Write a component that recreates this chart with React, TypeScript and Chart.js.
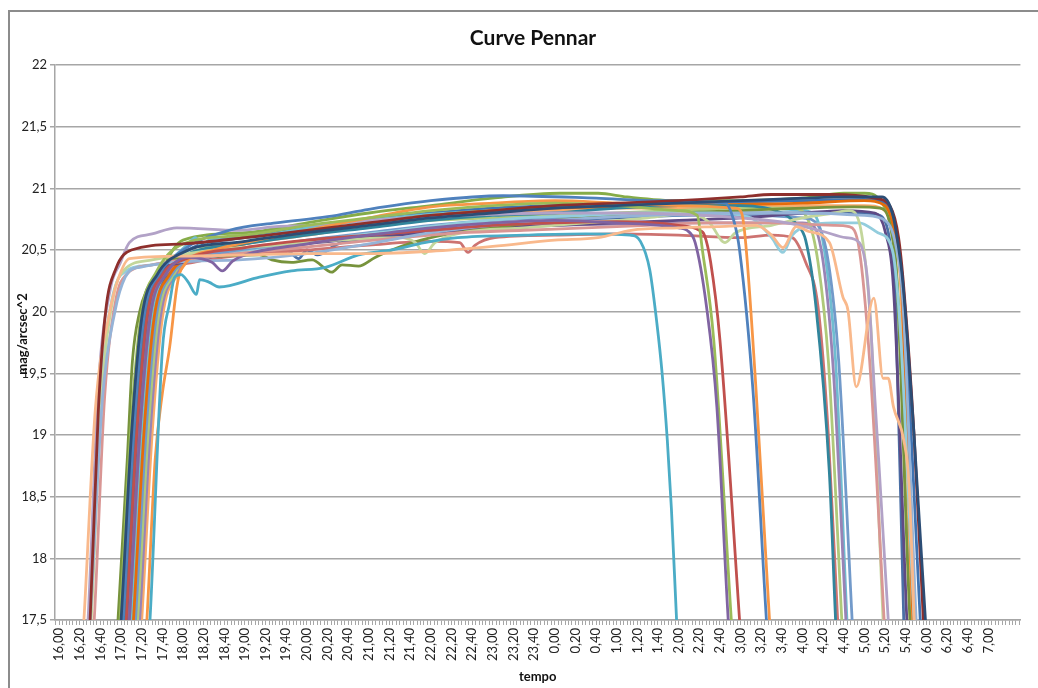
import { useEffect, useRef } from "react";
import { Chart, registerables } from "chart.js";

Chart.register(...registerables);

const CHART_TITLE = "Curve Pennar";
const X_TITLE = "tempo";
const Y_TITLE = "mag/arcsec^2";

// category labels along the time axis (one every 20 minutes, from 16,00)
const TIME_LABELS = [
  "16,00", "16,20", "16,40", "17,00", "17,20", "17,40", "18,00", "18,20", "18,40",
  "19,00", "19,20", "19,40", "20,00", "20,20", "20,40", "21,00", "21,20", "21,40",
  "22,00", "22,20", "22,40", "23,00", "23,20", "23,40", "0,00", "0,20", "0,40",
  "1,00", "1,20", "1,40", "2,00", "2,20", "2,40", "3,00", "3,20", "3,40",
  "4,00", "4,20", "4,40", "5,00", "5,20", "5,40", "6,00", "6,20", "6,40", "7,00",
];
const LABEL_STEP_MIN = 20;
const MINOR_PER_LABEL = 6;
const X_MIN = -4;
const X_MAX = 931;

const Y_MIN = 17.5;
const Y_MAX = 22;
const Y_STEP = 0.5;

type P = [string, number];

const sDarkBlue: P[] = [["16:56",17.0],["17:00",17.5],["17:10",19.0],["17:20",19.95],["17:35",20.3],["18:00",20.48],["19:00",20.57],["20:00",20.64],["21:00",20.7],["22:00",20.76],["23:00",20.8],["0:00",20.84],["1:00",20.86],["2:00",20.88],["3:00",20.9],["4:00",20.92],["4:45",20.93],["5:17",20.93],["5:27",20.8],["5:33",20.52],["5:37",20.25],["5:48",19.0],["5:59",17.5],["6:02",17.0]];
const sDarkRed: P[] = [["16:26",17.0],["16:30",17.5],["16:38",19.2],["16:45",20.0],["16:55",20.35],["17:10",20.5],["18:00",20.55],["19:00",20.6],["20:00",20.66],["21:00",20.72],["22:00",20.78],["23:00",20.82],["0:00",20.86],["1:00",20.88],["2:00",20.9],["3:00",20.93],["3:30",20.95],["4:30",20.95],["5:10",20.92],["5:25",20.85],["5:33",20.6],["5:38",20.2],["5:48",19.0],["5:57",17.5],["6:00",17.0]];
const sPeach: P[] = [["16:20",17.0],["16:24",17.5],["16:35",19.2],["16:49",20.0],["16:57",20.26],["17:08",20.43],["18:00",20.45],["19:00",20.46],["20:00",20.47],["21:00",20.47],["22:00",20.49],["23:00",20.53],["0:00",20.58],["0:42",20.6],["1:14",20.66],["2:00",20.68],["2:37",20.69],["3:15",20.7],["3:30",20.62],["3:41",20.52],["3:54",20.69],["4:06",20.65],["4:26",20.56],["4:39",20.12],["4:44",20.01],["4:52",19.39],["5:09",20.11],["5:18",19.46],["5:23",19.46],["5:28",19.23],["5:38",18.96],["5:43",18.61],["5:49",17.3]];
const sBlue: P[] = [["16:58",17.0],["17:02",17.5],["17:12",19.0],["17:22",19.95],["17:37",20.3],["18:00",20.5],["18:45",20.66],["19:30",20.72],["20:20",20.77],["21:00",20.83],["22:00",20.9],["23:10",20.94],["0:40",20.92],["1:40",20.9],["2:45",20.88],["2:54",20.72],["2:59",20.5],["3:12",19.36],["3:25",17.5],["3:29",17.0]];
const sRed: P[] = [["17:01",17.0],["17:05",17.5],["17:15",19.0],["17:25",19.95],["17:40",20.3],["18:00",20.42],["19:00",20.52],["20:00",20.58],["21:00",20.62],["22:00",20.66],["23:00",20.7],["0:00",20.72],["1:00",20.73],["2:00",20.7],["2:20",20.66],["2:25",20.62],["2:31",20.4],["2:40",19.77],["2:59",17.5],["3:03",17.0]];
const sGreen: P[] = [["16:55",17.0],["16:59",17.5],["17:09",19.0],["17:19",19.95],["17:34",20.32],["18:00",20.55],["19:00",20.62],["20:00",20.7],["21:00",20.76],["22:00",20.82],["23:00",20.86],["0:00",20.88],["1:00",20.86],["2:00",20.82],["2:18",20.78],["2:23",20.5],["2:34",19.77],["2:51",17.5],["2:55",17.0]];
const sPurple: P[] = [["17:04",17.0],["17:08",17.5],["17:18",19.0],["17:28",19.95],["17:43",20.3],["18:05",20.44],["18:28",20.4],["18:38",20.33],["18:48",20.41],["19:00",20.46],["20:00",20.55],["21:00",20.62],["22:00",20.68],["23:00",20.72],["0:00",20.74],["1:00",20.72],["2:00",20.68],["2:08",20.66],["2:16",20.56],["2:27",20.04],["2:37",19.23],["2:48",17.5],["2:52",17.0]];
const sCyan: P[] = [["17:24",17.0],["17:28",17.5],["17:40",19.69],["17:47",20.07],["17:52",20.28],["17:58",20.3],["18:05",20.24],["18:13",20.14],["18:16",20.26],["18:25",20.24],["18:35",20.2],["19:14",20.28],["19:45",20.33],["20:18",20.36],["20:50",20.46],["21:22",20.5],["21:54",20.56],["22:26",20.6],["23:30",20.62],["0:30",20.63],["1:13",20.62],["1:23",20.57],["1:32",20.34],["1:39",19.9],["1:44",19.5],["1:49",18.96],["1:53",18.4],["1:58",17.5],["2:01",17.0]];
const sOrange: P[] = [["17:21",17.0],["17:25",17.5],["17:33",18.8],["17:40",19.34],["17:47",19.71],["17:54",20.2],["17:58",20.34],["18:30",20.5],["19:00",20.56],["20:00",20.66],["21:00",20.76],["22:00",20.85],["23:00",20.88],["0:00",20.9],["1:00",20.88],["2:00",20.86],["2:55",20.84],["3:01",20.8],["3:05",20.55],["3:15",19.36],["3:28",17.5],["3:32",17.0]];
const sLavender: P[] = [["16:24",17.0],["16:28",17.5],["16:38",19.4],["16:50",20.2],["16:59",20.39],["17:08",20.56],["17:30",20.63],["17:54",20.68],["18:54",20.66],["19:30",20.69],["20:00",20.7],["21:00",20.74],["22:00",20.77],["23:00",20.79],["0:00",20.8],["1:00",20.8],["2:00",20.79],["3:00",20.76],["3:45",20.72],["4:20",20.65],["4:42",20.6],["4:55",20.56],["5:03",20.25],["5:10",19.3],["5:23",17.5],["5:26",17.0]];
const sLightBlue: P[] = [["16:26",17.0],["16:30",17.5],["16:42",19.3],["16:54",20.0],["17:04",20.28],["17:18",20.36],["18:54",20.42],["20:00",20.47],["21:00",20.55],["22:00",20.64],["23:00",20.7],["0:00",20.74],["1:00",20.77],["2:00",20.79],["3:00",20.8],["4:00",20.8],["5:00",20.78],["5:20",20.74],["5:30",20.55],["5:37",20.1],["5:50",17.5],["5:53",17.0]];
const sPink: P[] = [["16:30",17.0],["16:34",17.5],["16:44",19.3],["16:55",20.1],["17:05",20.3],["17:30",20.38],["18:30",20.45],["19:30",20.5],["20:30",20.55],["21:30",20.6],["22:30",20.64],["23:30",20.66],["0:30",20.68],["1:30",20.7],["2:30",20.72],["3:30",20.72],["4:30",20.7],["4:45",20.69],["4:55",20.5],["5:05",19.6],["5:19",17.5],["5:22",17.0]];
const sLightGreen: P[] = [["16:27",17.0],["16:31",17.5],["16:41",19.3],["16:52",20.1],["17:02",20.33],["17:30",20.42],["18:30",20.5],["19:30",20.54],["20:30",20.58],["21:30",20.6],["21:45",20.56],["21:54",20.47],["22:04",20.56],["22:30",20.64],["23:30",20.68],["0:30",20.72],["1:30",20.76],["2:11",20.8],["2:30",20.72],["2:45",20.56],["2:55",20.64],["3:30",20.7],["4:00",20.76],["4:30",20.8],["4:45",20.82],["4:55",20.72],["5:01",20.39],["5:06",19.9],["5:18",17.5],["5:21",17.0]];
const sLightCyan: P[] = [["16:25",17.0],["16:29",17.5],["16:39",19.3],["16:50",20.05],["17:00",20.3],["17:30",20.38],["18:30",20.45],["19:30",20.52],["20:30",20.6],["21:30",20.66],["22:30",20.72],["23:30",20.76],["0:30",20.78],["1:30",20.8],["2:30",20.8],["3:10",20.76],["3:30",20.6],["3:41",20.48],["3:50",20.62],["4:05",20.7],["4:30",20.72],["4:55",20.72],["5:13",20.64],["5:27",20.5],["5:35",19.8],["5:48",17.5],["5:51",17.0]];
const sOlive: P[] = [["16:53",17.0],["16:57",17.5],["17:06",18.8],["17:11",19.6],["17:18",20.0],["17:25",20.18],["17:35",20.31],["17:47",20.42],["18:30",20.45],["19:14",20.46],["19:26",20.42],["19:45",20.4],["20:05",20.42],["20:24",20.32],["20:34",20.38],["20:50",20.37],["21:06",20.44],["21:22",20.5],["22:00",20.6],["23:00",20.68],["0:00",20.74],["1:00",20.78],["2:00",20.8],["3:00",20.82],["4:00",20.84],["4:50",20.85],["5:15",20.84],["5:25",20.7],["5:31",20.3],["5:44",17.5],["5:48",17.0]];
const sDarkPurple: P[] = [["16:56",17.0],["17:00",17.5],["17:10",19.0],["17:20",19.95],["17:35",20.3],["18:00",20.4],["19:00",20.48],["20:00",20.55],["21:00",20.6],["22:00",20.64],["23:00",20.68],["0:00",20.7],["1:00",20.72],["2:00",20.74],["3:00",20.76],["4:00",20.8],["4:40",20.82],["5:10",20.8],["5:20",20.65],["5:28",20.2],["5:41",17.5],["5:44",17.0]];
const sTeal: P[] = [["17:00",17.0],["17:04",17.5],["17:14",19.0],["17:24",19.95],["17:39",20.3],["18:00",20.45],["19:00",20.55],["20:00",20.62],["21:00",20.68],["22:00",20.74],["23:00",20.78],["0:00",20.8],["1:00",20.84],["2:00",20.86],["3:00",20.86],["3:40",20.8],["3:55",20.7],["4:03",20.58],["4:13",20.04],["4:26",18.69],["4:32",17.5],["4:35",17.0]];
const sDarkOrange: P[] = [["17:08",17.0],["17:12",17.5],["17:22",19.0],["17:32",19.95],["17:47",20.3],["18:10",20.45],["19:00",20.55],["20:00",20.64],["21:00",20.72],["22:00",20.78],["23:00",20.82],["0:00",20.84],["1:00",20.85],["2:00",20.86],["3:00",20.87],["4:00",20.88],["5:00",20.9],["5:20",20.86],["5:30",20.6],["5:36",20.2],["5:47",17.5],["5:50",17.0]];
const sMidBlue: P[] = [["17:10",17.0],["17:14",17.5],["17:24",19.0],["17:34",19.95],["17:49",20.3],["18:10",20.42],["19:00",20.5],["20:00",20.58],["21:00",20.64],["22:00",20.7],["23:00",20.74],["0:00",20.76],["1:00",20.77],["2:00",20.78],["3:00",20.78],["4:00",20.76],["4:15",20.7],["4:25",20.4],["4:35",19.6],["4:48",17.5],["4:51",17.0]];
const sSalmon: P[] = [["17:04",17.0],["17:08",17.5],["17:18",19.0],["17:28",19.95],["17:43",20.3],["18:10",20.4],["19:00",20.46],["20:00",20.5],["21:00",20.54],["22:00",20.57],["22:28",20.56],["22:36",20.48],["22:43",20.54],["23:02",20.6],["0:00",20.62],["1:00",20.63],["2:00",20.62],["3:00",20.6],["3:30",20.62],["3:50",20.6],["4:03",20.4],["4:15",20.04],["4:25",19.0],["4:34",17.5],["4:37",17.0]];
const sYellowGreen: P[] = [["17:12",17.0],["17:16",17.5],["17:26",19.0],["17:36",19.95],["17:51",20.3],["18:10",20.48],["19:00",20.56],["20:00",20.64],["21:00",20.7],["22:00",20.74],["23:00",20.76],["0:00",20.78],["1:00",20.8],["2:00",20.82],["3:00",20.84],["3:50",20.84],["4:05",20.75],["4:15",20.4],["4:25",19.6],["4:38",17.5],["4:41",17.0]];
const sLilac: P[] = [["17:14",17.0],["17:18",17.5],["17:28",19.0],["17:38",19.95],["17:53",20.3],["18:15",20.45],["19:00",20.5],["20:00",20.56],["21:00",20.62],["22:00",20.66],["23:00",20.69],["0:00",20.7],["1:00",20.71],["2:00",20.72],["3:00",20.72],["4:00",20.72],["4:10",20.7],["4:20",20.4],["4:30",19.5],["4:42",17.5],["4:45",17.0]];
const sSky: P[] = [["17:06",17.0],["17:10",17.5],["17:20",19.0],["17:30",19.95],["17:45",20.35],["18:05",20.55],["18:12",20.6],["18:18",20.52],["18:25",20.58],["19:00",20.6],["20:00",20.68],["21:00",20.74],["22:00",20.79],["23:00",20.82],["0:00",20.84],["1:00",20.86],["2:00",20.86],["3:00",20.85],["4:00",20.82],["4:12",20.78],["4:22",20.45],["4:32",19.6],["4:43",17.5],["4:46",17.0]];
const sLightOrange: P[] = [["17:16",17.0],["17:20",17.5],["17:30",19.0],["17:40",19.95],["17:55",20.3],["18:20",20.48],["19:00",20.55],["20:00",20.62],["21:00",20.7],["22:00",20.76],["23:00",20.8],["0:00",20.82],["1:00",20.84],["2:00",20.84],["3:00",20.85],["4:00",20.86],["5:00",20.86],["5:20",20.82],["5:30",20.6],["5:35",20.2],["5:46",17.5],["5:49",17.0]];
const sBlue2: P[] = [["17:02",17.0],["17:06",17.5],["17:16",19.0],["17:26",19.95],["17:41",20.3],["18:05",20.5],["19:00",20.6],["20:00",20.68],["21:00",20.75],["22:00",20.8],["23:00",20.84],["0:00",20.86],["1:00",20.87],["2:00",20.88],["3:00",20.89],["4:00",20.9],["5:00",20.91],["5:20",20.88],["5:30",20.65],["5:37",20.2],["5:54",17.5],["5:57",17.0]];
const sTopGreen: P[] = [["17:02",17.0],["17:06",17.5],["17:16",19.0],["17:26",19.95],["17:41",20.35],["18:00",20.58],["19:00",20.64],["20:00",20.72],["21:00",20.8],["22:00",20.86],["23:00",20.92],["0:05",20.96],["0:42",20.96],["1:10",20.93],["2:00",20.9],["3:00",20.9],["4:00",20.92],["4:40",20.96],["5:00",20.96],["5:15",20.9],["5:25",20.7],["5:32",20.2],["5:45",17.5],["5:48",17.0]];
const sSteel: P[] = [["17:06",17.0],["17:10",17.5],["17:20",19.0],["17:30",19.95],["17:45",20.3],["18:10",20.42],["19:00",20.48],["19:40",20.5],["19:52",20.43],["20:00",20.5],["20:10",20.46],["20:30",20.55],["21:00",20.6],["22:00",20.66],["23:00",20.7],["0:00",20.74],["1:00",20.76],["2:00",20.78],["3:00",20.8],["4:00",20.8],["5:00",20.8],["5:15",20.78],["5:25",20.55],["5:30",20.1],["5:38",17.5],["5:41",17.0]];

// first entry is drawn on top
const SERIES: { pts: P[]; color: string }[] = [
  { pts: sDarkBlue, color: "#2C4D75" },
  { pts: sDarkRed, color: "#8E2F2C" },
  { pts: sPeach, color: "#F9B98C" },
  { pts: sCyan, color: "#4BACC6" },
  { pts: sPurple, color: "#8064A2" },
  { pts: sGreen, color: "#9BBB59" },
  { pts: sRed, color: "#C0504D" },
  { pts: sBlue, color: "#4F81BD" },
  { pts: sOrange, color: "#F79646" },
  { pts: sLavender, color: "#B2A2C7" },
  { pts: sLightBlue, color: "#95B3D7" },
  { pts: sPink, color: "#D99694" },
  { pts: sLightGreen, color: "#C3D69B" },
  { pts: sLightCyan, color: "#93CDDD" },
  { pts: sOlive, color: "#77933C" },
  { pts: sDarkPurple, color: "#5F4A85" },
  { pts: sTeal, color: "#31859C" },
  { pts: sDarkOrange, color: "#E46C0A" },
  { pts: sMidBlue, color: "#729ACA" },
  { pts: sSalmon, color: "#CD7371" },
  { pts: sYellowGreen, color: "#AFC97A" },
  { pts: sLilac, color: "#9983B5" },
  { pts: sSky, color: "#6FBDD1" },
  { pts: sLightOrange, color: "#F9AB6B" },
  { pts: sBlue2, color: "#3F73B2" },
  { pts: sTopGreen, color: "#86AC48" },
  { pts: sSteel, color: "#4A6FA5" },
];

function toMinutes(t: string): number {
  const [h, m] = t.split(":").map(Number);
  const hh = h < 12 ? h + 24 : h;
  return (hh - 16) * 60 + m;
}

const FONT = "Lato, 'Open Sans', sans-serif";
const GRID = "#a6a6a6";

const decor = {
  id: "decor",
  beforeDraw(chart: any) {
    const ctx = chart.ctx;
    ctx.save();
    ctx.fillStyle = "#ffffff";
    ctx.fillRect(0, 0, chart.width, chart.height);
    ctx.strokeStyle = "#8c8c8c";
    ctx.lineWidth = 2;
    ctx.beginPath();
    ctx.moveTo(9, chart.height);
    ctx.lineTo(9, 11);
    ctx.lineTo(chart.width, 11);
    ctx.stroke();
    ctx.restore();
  },
  afterDraw(chart: any) {
    const ctx = chart.ctx;
    ctx.save();
    ctx.fillStyle = "#111";
    ctx.textAlign = "center";
    ctx.textBaseline = "middle";
    ctx.font = `bold 21px ${FONT}`;
    ctx.fillText(CHART_TITLE, 533, 38);
    ctx.translate(23, 334);
    ctx.rotate(-Math.PI / 2);
    ctx.font = `bold 13px ${FONT}`;
    ctx.fillText(Y_TITLE, 0, 0);
    ctx.restore();
  },
};

export default function App() {
  const ref = useRef<HTMLCanvasElement | null>(null);

  useEffect(() => {
    if (!ref.current) return;
    const minorStep = LABEL_STEP_MIN / MINOR_PER_LABEL;
    const chart = new Chart(ref.current, {
      type: "line",
      data: {
        datasets: SERIES.map((s) => ({
          data: s.pts.map(([t, v]) => ({ x: toMinutes(t), y: v })),
          borderColor: s.color,
          backgroundColor: s.color,
          borderWidth: 2.8,
          pointRadius: 0,
          fill: false,
          cubicInterpolationMode: "monotone" as const,
          clip: 0,
        })),
      },
      options: {
        animation: false,
        responsive: false,
        devicePixelRatio: 1,
        layout: { padding: { left: 10, right: 13, top: 65, bottom: 0 } },
        plugins: {
          legend: { display: false },
          tooltip: { enabled: false },
          title: { display: false },
        },
        scales: {
          x: {
            type: "linear",
            min: X_MIN,
            max: X_MAX,
            afterBuildTicks: (scale: any) => {
              const ticks = [];
              for (let k = -1; k * minorStep <= X_MAX; k++) ticks.push({ value: k * minorStep });
              scale.ticks = ticks;
            },
            afterFit: (scale: any) => {
              scale.height = 68;
            },
            ticks: {
              autoSkip: false,
              minRotation: 90,
              maxRotation: 90,
              padding: 3,
              color: "#222",
              font: { family: FONT, size: 13 },
              callback: (value: any) => {
                const i = Number(value) / LABEL_STEP_MIN;
                const r = Math.round(i);
                if (Math.abs(i - r) < 1e-6 && r >= 0 && r < TIME_LABELS.length) return TIME_LABELS[r];
                return "";
              },
            },
            grid: {
              display: true,
              drawOnChartArea: false,
              drawTicks: true,
              tickLength: 5,
              color: GRID,
              lineWidth: 1,
            },
            border: { display: true, color: GRID, width: 1.5 },
            title: {
              display: true,
              text: X_TITLE,
              color: "#111",
              font: { family: FONT, size: 13, weight: "bold" },
              padding: { top: 0, bottom: 3 },
            },
          },
          y: {
            type: "linear",
            min: Y_MIN,
            max: Y_MAX,
            afterFit: (scale: any) => {
              scale.width = 45;
            },
            ticks: {
              stepSize: Y_STEP,
              padding: 3,
              color: "#222",
              font: { family: FONT, size: 13 },
              callback: (value: any) => String(value).replace(".", ","),
            },
            grid: {
              color: GRID,
              lineWidth: 1.5,
              tickLength: 5,
            },
            border: { display: true, color: GRID, width: 1.5 },
          },
        },
      },
      plugins: [decor],
    } as any);
    return () => chart.destroy();
  }, []);

  return (
    <canvas
      ref={ref}
      width={1038}
      height={688}
      style={{ position: "fixed", left: 0, top: 0, width: 1038, height: 688 }}
    />
  );
}
